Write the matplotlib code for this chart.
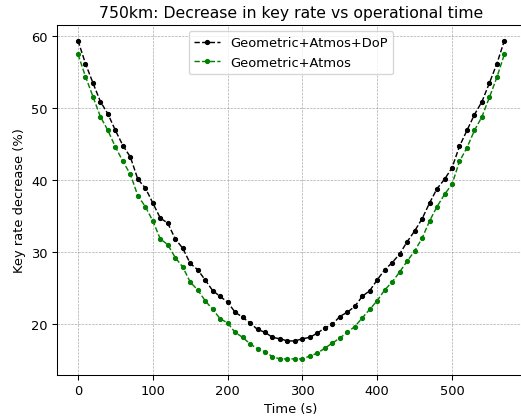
import numpy as np
import matplotlib
matplotlib.use('Agg')
import matplotlib.pyplot as plt

# operational time samples (s)
time_s = np.arange(0, 580, 10)

# key rate decrease (%) with DoP losses included
decrease_dop = [59.4, 56.2, 53.5, 50.9, 49.2, 46.9, 44.8, 43.2, 40.1, 38.9,
                36.8, 34.7, 34.0, 31.8, 30.5, 28.4, 27.5, 26.1, 24.6, 23.8,
                23.0, 21.6, 20.9, 20.1, 19.2, 18.8, 18.1, 17.9, 17.6, 17.6,
                17.9, 18.1, 18.7, 19.4, 19.9, 21.0, 21.6, 22.4, 23.8, 24.6,
                26.1, 27.5, 28.5, 29.7, 31.4, 32.9, 34.6, 36.8, 38.8, 40.1,
                41.7, 44.7, 46.9, 49.1, 50.9, 53.5, 56.2, 59.4]

# key rate decrease (%) geometric + atmospheric only
decrease_atm = [57.5, 54.4, 51.6, 48.8, 46.9, 44.6, 42.6, 40.8, 37.8, 36.3,
                34.3, 31.8, 31.0, 29.2, 27.9, 25.8, 24.7, 23.2, 22.0, 20.7,
                20.1, 18.8, 18.1, 17.2, 16.5, 16.1, 15.4, 15.1, 15.1, 15.1,
                15.1, 15.5, 15.9, 16.6, 17.3, 18.0, 18.8, 19.6, 20.8, 22.0,
                23.2, 24.7, 25.8, 27.2, 28.7, 30.1, 31.9, 34.3, 36.3, 38.0,
                39.4, 42.6, 44.5, 46.9, 48.8, 51.5, 54.3, 57.5]

dpi = 94
fig = plt.figure(figsize=(521 / dpi, 420 / dpi), dpi=dpi)
# axes run slightly past the right edge of the canvas
ax = fig.add_axes([0.1088, 0.1052, 0.9002, 0.8336])
ax.plot(time_s, decrease_dop, '.--', color='k', linewidth=1.1, label='Geometric+Atmos+DoP')
ax.plot(time_s, decrease_atm, '.--', color='g', linewidth=1.1, label='Geometric+Atmos')
ax.spines['right'].set_visible(False)
ax.set_xlabel('Time (s)')
ax.set_ylabel('Key rate decrease (%)')
ax.set_title('750km: Decrease in key rate vs operational time')
ax.grid(True, linestyle='--', linewidth=0.5, color='grey', alpha=0.7)
ax.legend(loc='upper center')
fig.savefig('out.png', dpi=dpi)
